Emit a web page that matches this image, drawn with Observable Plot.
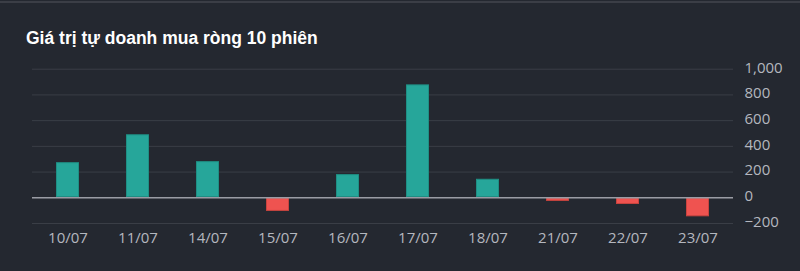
<!DOCTYPE html>
<html>
<head>
<meta charset="utf-8">
<script src="https://cdn.jsdelivr.net/npm/d3@7"></script>
<script src="https://cdn.jsdelivr.net/npm/@observablehq/plot@0.6"></script>
<style>
  html, body { margin: 0; padding: 0; background: #242830; width: 800px; height: 271px; overflow: hidden; }
  #wrap { position: relative; width: 800px; height: 271px; background: #242830; }
  #topline { position: absolute; left: 0; top: 1px; width: 800px; height: 2px; background: #3b3e46; }
  #title { height: 56px; box-sizing: border-box; padding: 28px 0 0 26px; color: #ffffff;
           font-family: "Liberation Sans", Arial, sans-serif; font-weight: bold; font-size: 17.5px; line-height: 20px; }
  svg { display: block; }
</style>
</head>
<body>
<div id="wrap">
  <div id="topline"></div>
  <div id="title">Giá trị tự doanh mua ròng 10 phiên</div>
  <div id="chart"></div>
</div>
<script>
const dates = ["10/07", "11/07", "14/07", "15/07", "16/07", "17/07", "18/07", "21/07", "22/07", "23/07"];
const values = [273, 490, 281, -106, 180, 878, 144, -28, -52, -148];
const yTicks = [-200, 0, 200, 400, 600, 800, 1000];

const data = dates.map((d, i) => ({date: d, value: values[i]}));
const up = "#26a69a", down = "#ef5350";

const chart = Plot.plot({
  width: 800,
  height: 215,
  marginLeft: 32,
  marginRight: 67,
  marginTop: 12.7,
  marginBottom: 48,
  style: {background: "transparent", fontFamily: "'Open Sans', sans-serif", fontSize: "15px", color: "#b4b7bf"},
  x: {domain: dates, paddingInner: 0.676, paddingOuter: 0.338, label: null},
  y: {domain: [-200, 1000], label: null},
  marks: [
    Plot.gridY(yTicks, {stroke: "#3a3e46", strokeOpacity: 1, strokeWidth: 1}),
    Plot.barY(data, {x: "date", y: "value", fill: d => d.value >= 0 ? up : down,
      stroke: d => d.value >= 0 ? "#1f8f84" : "#c9443f", strokeWidth: 1, inset: 0.5}),
    Plot.ruleY([0], {stroke: "#9a9ca4", strokeWidth: 1.6}),
    Plot.axisY(yTicks, {anchor: "right", tickSize: 0, tickPadding: 11, textAnchor: "start",
      tickFormat: d3.format(","), fill: "#b4b7bf", fontSize: 15, dy: -1.5}),
    Plot.axisX({anchor: "bottom", tickSize: 0, tickPadding: 9, fill: "#b4b7bf", fontSize: 15})
  ]
});
document.getElementById("chart").appendChild(chart);
</script>
</body>
</html>
